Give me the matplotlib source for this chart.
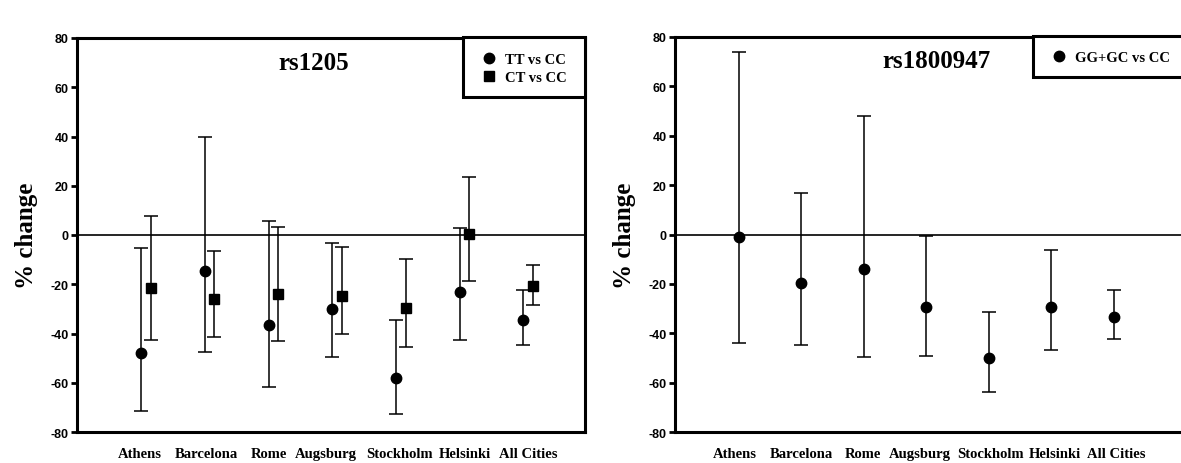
import matplotlib
matplotlib.use("Agg")
import matplotlib.pyplot as plt
from matplotlib import font_manager
from matplotlib.patches import Rectangle
import numpy as np

cities = ["Athens", "Barcelona", "Rome", "Augsburg", "Stockholm", "Helsinki", "All Cities"]

# rs1205
tt_val = [-48.0, -14.8, -36.5, -30.1, -58.0, -23.3, -34.6]
tt_low = [-71.6, -47.7, -61.7, -49.6, -72.8, -42.7, -44.6]
tt_high = [-5.2, 39.9, 5.8, -3.1, -34.4, 3.0, -22.4]
ct_val = [-21.7, -26.0, -23.9, -24.9, -29.8, 0.3, -20.9]
ct_low = [-42.8, -41.5, -43.0, -40.0, -45.4, -18.8, -28.5]
ct_high = [7.6, -6.6, 3.4, -5.0, -9.9, 23.7, -12.1]

# rs1800947
gg_val = [-1.2, -19.6, -13.9, -29.3, -50.2, -29.3, -33.4]
gg_low = [-43.9, -44.6, -49.6, -49.3, -63.9, -46.6, -42.5]
gg_high = [74.0, 16.9, 47.8, -0.7, -31.3, -6.1, -22.4]

yticks = [-80, -60, -40, -20, 0, 20, 40, 60, 80]

# small horizontal nudges of the city labels (as placed in the original)
label_shift_L = [-0.09, -0.05, -0.07, -0.17, -0.02, 0.0, 0.0]
label_shift_R = [-0.06, 0.0, -0.02, -0.11, 0.02, 0.06, 0.03]

avail = {f.name for f in font_manager.fontManager.ttflist}
tick_family = "Liberation Sans Narrow" if "Liberation Sans Narrow" in avail else "Liberation Sans"
serif = "Liberation Serif"

fig = plt.figure(figsize=(11.81, 4.64), dpi=100)
fig.patch.set_facecolor("white")

W, H = 1181, 464
def axes_px(x0, x1, ytop, ybot):
    return fig.add_axes([x0 / W, (H - ybot) / H, (x1 - x0) / W, (ybot - ytop) / H])

boxL = (77, 585, 39, 433)
boxR = (675, 1187, 38, 433)
axL = axes_px(*boxL)
axR = axes_px(*boxR)

def style(ax, xlim, shifts):
    ax.set_ylim(-80, 80)
    ax.set_xlim(*xlim)
    ax.set_yticks(yticks)
    ax.set_yticklabels([str(t) for t in yticks], fontfamily=tick_family,
                       fontweight="bold", fontsize=9)
    ax.set_xticks(np.arange(1, len(cities) + 1) + np.array(shifts))
    ax.set_xticklabels(cities, fontfamily=serif, fontweight="bold", fontsize=10.5)
    ax.tick_params(axis="x", length=0, pad=11)
    ax.tick_params(axis="y", length=4, width=2, direction="out", pad=2)
    for s in ax.spines.values():
        s.set_linewidth(2.2)
    ax.axhline(0, color="black", lw=1.2, zorder=1)
    ax.set_ylabel("% change", fontfamily=serif, fontweight="bold", fontsize=18, labelpad=9)
    return ax

style(axL, (-0.08, 7.89), label_shift_L)
style(axR, (-0.024, 8.17), label_shift_R)

x = np.arange(1, len(cities) + 1)
off = 0.075
ekw = dict(ecolor="black", elinewidth=1.1, capsize=5, capthick=1.1, linestyle="none", zorder=3)

axL.errorbar(x - off, tt_val, yerr=[np.array(tt_val) - np.array(tt_low), np.array(tt_high) - np.array(tt_val)],
             fmt="o", color="black", ms=7.5, label="TT vs CC", **ekw)
axL.errorbar(x + off, ct_val, yerr=[np.array(ct_val) - np.array(ct_low), np.array(ct_high) - np.array(ct_val)],
             fmt="s", color="black", ms=7, label="CT vs CC", **ekw)
axR.errorbar(x, gg_val, yerr=[np.array(gg_val) - np.array(gg_low), np.array(gg_high) - np.array(gg_val)],
             fmt="o", color="black", ms=7.5, label="GG+GC vs CC", **ekw)

def px2ax(box, px, py):
    x0, x1, yt, yb = box
    return (px - x0) / (x1 - x0), (yb - py) / (yb - yt)

axL.text(*px2ax(boxL, 314, 63), "rs1205", transform=axL.transAxes,
         ha="center", va="center", fontfamily=serif, fontweight="bold", fontsize=18)
axR.text(*px2ax(boxR, 936, 62), "rs1800947", transform=axR.transAxes,
         ha="center", va="center", fontfamily=serif, fontweight="bold", fontsize=18)

FS = 10.5
fs_px = FS * 100 / 72

def mk_legend(ax, box, frame_px, marker_x, center_y):
    fx0, fx1, fyt, fyb = frame_px
    ax0, ay0 = px2ax(box, fx0, fyb)
    ax1, ay1 = px2ax(box, fx1, fyt)
    ax.add_patch(Rectangle((ax0, ay0), ax1 - ax0, ay1 - ay0, transform=ax.transAxes,
                           facecolor="white", edgecolor="black", lw=2.2, zorder=5,
                           clip_on=False))
    handles, labels = ax.get_legend_handles_labels()
    handles = [h[0] for h in handles]
    anchor = px2ax(box, marker_x - 0.5 * fs_px, center_y)
    leg = ax.legend(handles, labels, loc="center left", bbox_to_anchor=anchor, borderaxespad=0,
                    frameon=False, handlelength=1.0, borderpad=0.0,
                    handletextpad=0.6, labelspacing=0.35,
                    prop={"family": serif, "weight": "bold", "size": FS})
    leg.set_zorder(6)
    return leg

mk_legend(axL, boxL, (463, 585, 38, 98), 489, 69.5)
mk_legend(axR, boxR, (1033, 1190, 37, 78), 1059, 58)

fig.savefig("out.png", dpi=100, facecolor="white")
